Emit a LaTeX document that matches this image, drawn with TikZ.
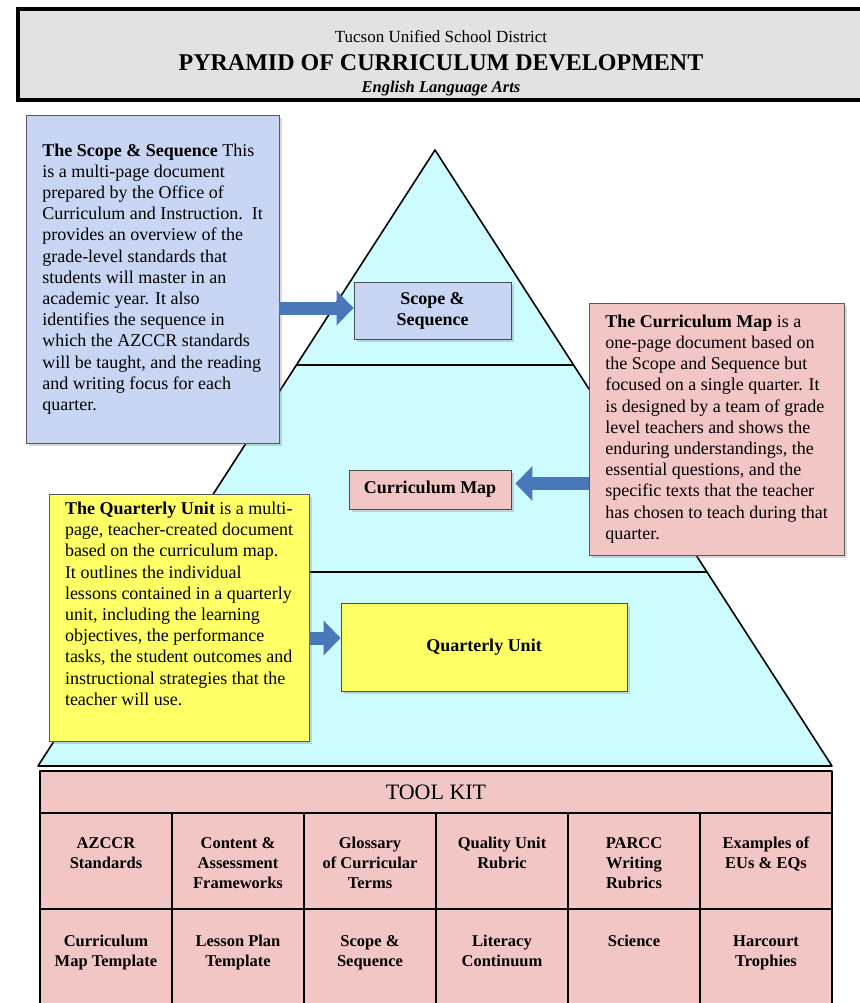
\documentclass[tikz,border=0pt]{standalone}
\usepackage{fontspec}
\setmainfont{Liberation Serif}
\usepackage{tikz}
\usetikzlibrary{arrows.meta,calc,shadows}
\definecolor{pyrcyan}{RGB}{204,252,255}
\definecolor{scopeblue}{RGB}{200,214,244}
\definecolor{mappink}{RGB}{243,198,198}
\definecolor{unityellow}{RGB}{255,255,102}
\definecolor{arrowblue}{RGB}{72,120,186}
\definecolor{hdrgray}{RGB}{226,226,226}
\tikzset{
  pyrline/.style={line width=1.6pt, line join=round},
  hdrbox/.style={draw, line width=3.5pt, fill=hdrgray, minimum width=860pt, minimum height=91pt},
  infobox/.style={draw=black!65, line width=0.9pt, align=left, font=\fontsize{18}{21.2}\selectfont,
    drop shadow={shadow xshift=3pt, shadow yshift=-3pt, opacity=0.3}},
  lblbox/.style={draw=black!70, line width=0.9pt, align=center, font=\fontsize{18}{21}\selectfont\bfseries,
    drop shadow={shadow xshift=3pt, shadow yshift=-3pt, opacity=0.3}},
  bluearrow/.style={draw=arrowblue, line width=13pt, -{Triangle[length=17pt,width=34pt]}},
  kitcell/.style={anchor=north, align=center, inner sep=0pt, font=\fontsize{16.5}{20}\selectfont\bfseries}
}
\begin{document}
\begin{tikzpicture}[x=1pt,y=-1pt]
\useasboundingbox (0,0) rectangle (859,1003);
\node[hdrbox] (hdr) at (448,54.5) {};
\node[anchor=base, font=\fontsize{17}{20}\selectfont] (district) at (441,43) {Tucson Unified School District};
\node[anchor=base, font=\fontsize{24}{26}\selectfont\bfseries] (title) at (441,71) {PYRAMID OF CURRICULUM DEVELOPMENT};
\node[anchor=base, font=\fontsize{16.5}{18}\selectfont\bfseries\itshape] (subject) at (441,93) {English Language Arts};

\coordinate (apex) at (435,150);
\coordinate (bl) at (38,766);
\coordinate (br) at (832,766);
\draw[pyrline, fill=pyrcyan] (apex) -- (bl) -- (br) -- cycle;
\draw[pyrline] ($(apex)!0.349!(bl)$) -- ($(apex)!0.349!(br)$)
  ($(apex)!0.685!(bl)$) -- ($(apex)!0.685!(br)$);

\fill[mappink] (40,771) rectangle (832,1003);
\draw[pyrline] (40,1003) -- (40,771) -- (832,771) -- (832,1003)
  (40,813) -- (832,813) (40,909) -- (832,909);
\foreach \i in {1,...,5}
  \draw[pyrline] (40+132*\i,813) -- (40+132*\i,1003);
\node[font=\fontsize{22}{24}\selectfont] (toolkit) at (436,792) {TOOL KIT};
\foreach \txt [count=\i] in {AZCCR\\Standards, Content \&\\Assessment\\Frameworks, Glossary\\of Curricular\\Terms,
  Quality Unit\\Rubric, PARCC\\Writing\\Rubrics, Examples of\\EUs \& EQs}
  \node[kitcell] (kit1-\i) at (40+132*\i-66,837) {\txt};
\foreach \txt [count=\i] in {Curriculum\\Map Template, Lesson Plan\\Template, Scope \&\\Sequence,
  Literacy\\Continuum, Science, Harcourt\\Trophies}
  \node[kitcell] (kit2-\i) at (40+132*\i-66,935) {\txt};

\node[infobox, fill=scopeblue, minimum width=253pt, minimum height=328pt] (scopebox) at (152.5,279)
  {\textbf{The Scope \& Sequence} This\\is a multi-page document\\prepared by the Office of\\
   Curriculum and Instruction.\ \ It\\provides an overview of the\\grade-level standards that\\
   students will master in an\\academic year. It also\\identifies the sequence in\\
   which the AZCCR standards\\will be taught, and the reading\\and writing focus for each\\quarter.};
\node[lblbox, fill=scopeblue, minimum width=157pt, minimum height=57pt] (scopelbl) at (432.5,310.5) {Scope \&\\Sequence};

\node[infobox, fill=mappink, minimum width=255pt, minimum height=252pt] (mapbox) at (716.5,429)
  {\textbf{The Curriculum Map} is a\\one-page document based on\\the Scope and Sequence but\\
   focused on a single quarter. It\\is designed by a team of grade\\level teachers and shows the\\
   enduring understandings, the\\essential questions, and the\\specific texts that the teacher\\
   has chosen to teach during that\\quarter.};
\node[lblbox, fill=mappink, minimum width=162pt, minimum height=39pt] (maplbl) at (430,489.5) {Curriculum Map};

\node[infobox, fill=unityellow, minimum width=260pt, minimum height=247pt] (unitbox) at (179,617.5)
  {\textbf{The Quarterly Unit} is a multi-\\page, teacher-created document\\based on the curriculum map.\\
   It outlines the individual\\lessons contained in a quarterly\\unit, including the learning\\
   objectives, the performance\\tasks, the student outcomes and\\instructional strategies that the\\
   teacher will use.\\\strut};
\node[lblbox, fill=unityellow, minimum width=286pt, minimum height=88pt] (unitlbl) at (484,647) {Quarterly Unit};

\coordinate (scopetip) at ([yshift=2.5pt]scopelbl.west);
\coordinate (maptip) at ([yshift=6pt]maplbl.east);
\coordinate (unittip) at ([yshift=9pt]unitlbl.west);
\draw[bluearrow] (scopebox.east |- scopetip) -- (scopetip);
\draw[bluearrow, shorten >=4pt] (mapbox.west |- maptip) -- (maptip);
\draw[bluearrow] (unitbox.east |- unittip) -- (unittip);
\end{tikzpicture}
\end{document}
